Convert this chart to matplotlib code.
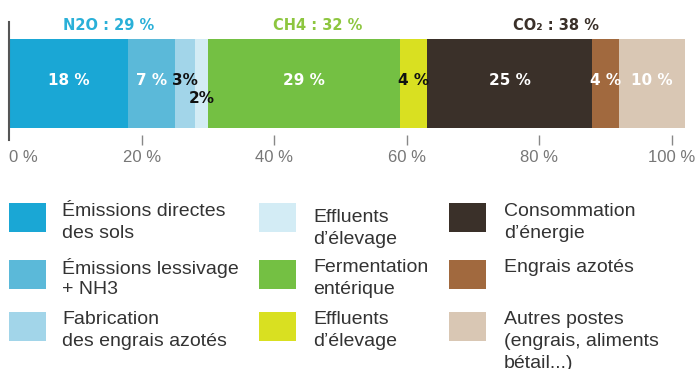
import matplotlib
matplotlib.use("Agg")
import matplotlib.pyplot as plt
from matplotlib.patches import Rectangle

# Breakdown of greenhouse-gas emissions (% of total)
segment_values = [18, 7, 3, 2, 29, 4, 25, 4, 10]
segment_labels = ["18 %", "7 %", "3%", "2%", "29 %", "4 %", "25 %", "4 %", "10 %"]
segment_colors = ["#1aa7d5", "#5bb9d9", "#a2d5e9", "#d3ecf5", "#74c043",
                  "#d9e021", "#3a3029", "#a1693e", "#d9c7b4"]
label_colors = ["white", "white", "#111111", "#111111", "white",
                "#111111", "white", "white", "white"]

gas_names = ["N2O : 29 %", "CH4 : 32 %", "CO₂ : 38 %"]
gas_sizes = [4, 2, 3]  # number of segments per gas
gas_colors = ["#2ab0d8", "#8dc63f", "#3a3029"]

tick_values = [0, 20, 40, 60, 80, 100]
tick_labels = ["0 %", "20 %", "40 %", "60 %", "80 %", "100 %"]

legend_labels = [
    "Émissions directes\ndes sols",
    "Émissions lessivage\n+ NH3",
    "Fabrication\ndes engrais azotés",
    "Effluents\nd’élevage",
    "Fermentation\nentérique",
    "Effluents\nd’élevage",
    "Consommation\nd’énergie",
    "Engrais azotés",
    "Autres postes\n(engrais, aliments\nbétail...)",
]
legend_colors = ["#1aa7d5", "#5bb9d9", "#a2d5e9", "#d3ecf5", "#74c043",
                 "#d9e021", "#3a3029", "#a1693e", "#d9c7b4"]

W, H = 697, 369
BOLD = ["DejaVu Sans"]
LIGHT = ["Liberation Sans", "DejaVu Sans"]

fig = plt.figure(figsize=(W / 100, H / 100), dpi=100)

# --- stacked bar -----------------------------------------------------------
px_per_pct = 6.63
ax_left, ax_right = 9, 692
ax_top, ax_bottom = 22, 140
ax = fig.add_axes([ax_left / W, 1 - ax_bottom / H,
                   (ax_right - ax_left) / W, (ax_bottom - ax_top) / H])
ax.set_xlim(0, (ax_right - ax_left) / px_per_pct)
ax.set_ylim(0, ax_bottom - ax_top)

bar_lo, bar_hi = ax_bottom - 128, ax_bottom - 39
bar_mid = (bar_lo + bar_hi) / 2
left = 0
starts = []
for v, c in zip(segment_values, segment_colors):
    ax.barh(bar_mid, v, height=bar_hi - bar_lo, left=left, color=c,
            edgecolor="none")
    starts.append(left)
    left += v

for i, (s, v, lab, tc) in enumerate(zip(starts, segment_values,
                                        segment_labels, label_colors)):
    y = ax_bottom - 80
    if lab == "2%":
        y = ax_bottom - 98
    ax.text(s + v / 2, y, lab, ha="center", va="center", color=tc,
            fontsize=11, fontweight="bold", family=BOLD)

# gas group headers
k = 0
for name, n, c in zip(gas_names, gas_sizes, gas_colors):
    g0 = starts[k]
    g1 = starts[k + n - 1] + segment_values[k + n - 1]
    ax.text((g0 + g1) / 2, ax_bottom - 25, name, ha="center", va="center",
            color=c, fontsize=10.5, fontweight="bold", family=BOLD,
            clip_on=False)
    k += n

for sp in ["top", "right", "bottom"]:
    ax.spines[sp].set_visible(False)
ax.spines["left"].set_color("#555555")
ax.spines["left"].set_linewidth(1.5)
ax.set_yticks([])
ax.set_xticks(tick_values)
ax.set_xticklabels(tick_labels, family=LIGHT, fontsize=12, color="#777777")
ax.tick_params(axis="x", direction="inout", length=7, width=1,
               color="#888888", pad=4)
ax.get_xticklabels()[0].set_horizontalalignment("left")
ax.xaxis.get_major_ticks()[0].tick1line.set_visible(False)

# --- legend ---------------------------------------------------------------
lax = fig.add_axes([0, 0, 1, 1])
lax.set_xlim(0, W)
lax.set_ylim(H, 0)
lax.axis("off")

col_sq_x = [9, 259, 449]
col_tx_x = [62, 313, 504]
row_sq_y = [203, 260, 312]
row_tx_y = [[211, 268, 320], [217, 267, 320], [212, 268, 320]]
sq_w, sq_h = 37, 29
line_gap = 22

for i, (lab, c) in enumerate(zip(legend_labels, legend_colors)):
    col, row = divmod(i, 3)
    lax.add_patch(Rectangle((col_sq_x[col], row_sq_y[row]), sq_w, sq_h,
                            facecolor=c, edgecolor="none"))
    for j, line in enumerate(lab.split("\n")):
        lax.text(col_tx_x[col], row_tx_y[col][row] + j * line_gap, line,
                 ha="left", va="center", fontsize=14, color="#333333",
                 family=LIGHT)

fig.savefig("out.png", dpi=100)
